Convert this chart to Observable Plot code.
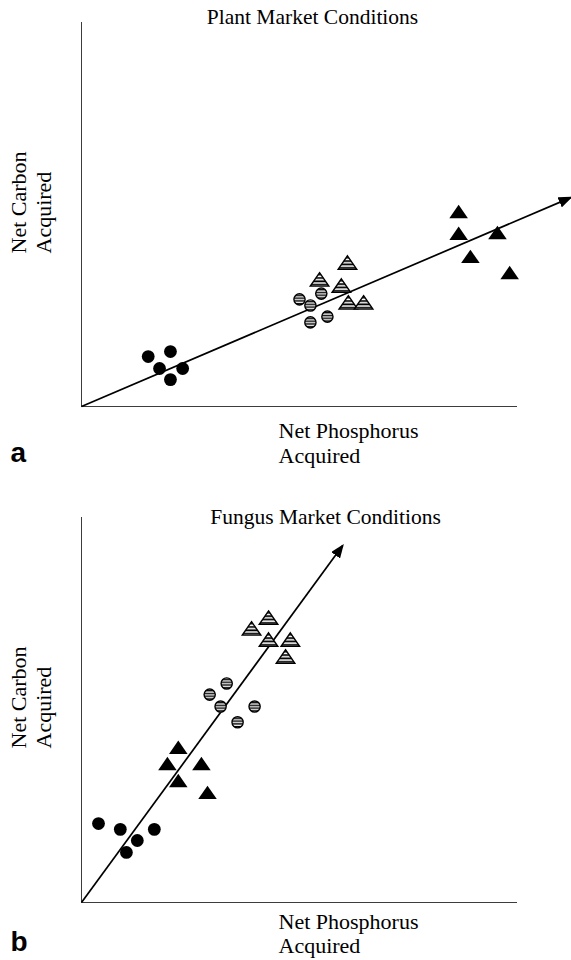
<!DOCTYPE html>
<html><head><meta charset="utf-8">
<script src="https://cdn.jsdelivr.net/npm/d3@7"></script>
<script src="https://cdn.jsdelivr.net/npm/@observablehq/plot@0.6"></script>
<style>body{margin:0;background:#fff} #chart svg{display:block}</style>
</head><body><div id="chart"></div>
<script>
// ---- Data (arbitrary units: axes run 0..100) ----
const seriesNames = ["filled circle", "striped circle", "striped triangle", "filled triangle"];

// Panel a: Plant Market Conditions
const plantX = [15.3, 20.4, 17.9, 23.2, 20.4,   50.0, 52.5, 55.0, 52.5, 56.4,   54.6, 61.0, 59.6, 61.2, 64.7,   86.5, 86.5, 95.4, 89.2, 98.2];
const plantY = [13.0, 14.3, 9.9, 9.9, 7.0,      27.9, 26.3, 29.4, 21.9, 23.4,   33.1, 37.5, 31.5, 27.1, 27.1,   50.8, 45.1, 45.3, 39.1, 34.9];
const plantSeries = [
  "filled circle", "filled circle", "filled circle", "filled circle", "filled circle",
  "striped circle", "striped circle", "striped circle", "striped circle", "striped circle",
  "striped triangle", "striped triangle", "striped triangle", "striped triangle", "striped triangle",
  "filled triangle", "filled triangle", "filled triangle", "filled triangle", "filled triangle"
];
const plantArrowStart = [0, 0];
const plantArrowEnd = [112.2, 54.4];

// Panel b: Fungus Market Conditions
const fungusX = [3.9, 8.9, 16.7, 12.8, 10.3,    22.2, 19.7, 27.5, 22.2, 28.9,   33.3, 29.4, 31.9, 39.7, 35.8,   42.9, 39.0, 42.9, 47.9, 46.8];
const fungusY = [20.5, 19.0, 19.0, 16.1, 13.0,  40.3, 36.1, 36.1, 31.7, 28.6,   56.9, 54.0, 50.9, 50.9, 46.8,   74.0, 71.2, 68.3, 68.3, 63.9];
const fungusSeries = [
  "filled circle", "filled circle", "filled circle", "filled circle", "filled circle",
  "filled triangle", "filled triangle", "filled triangle", "filled triangle", "filled triangle",
  "striped circle", "striped circle", "striped circle", "striped circle", "striped circle",
  "striped triangle", "striped triangle", "striped triangle", "striped triangle", "striped triangle"
];
const fungusArrowStart = [0, 0];
const fungusArrowEnd = [59.9, 92.7];

const titles = ["Plant Market Conditions", "Fungus Market Conditions"];
const xLabel = "Net Phosphorus\nAcquired";
const yLabel = "Net Carbon\nAcquired";
const panelLetters = ["a", "b"];

// ---- Rendering ----
const serif = "'Liberation Serif','Times New Roman',Times,serif";
const sans = "'Liberation Sans',Arial,Helvetica,sans-serif";

const flatTriangle = {
  draw(context, size) {
    const r = Math.sqrt(size / Math.PI);
    const w = r * 1.45, h = r * 1.05;
    context.moveTo(0, -h);
    context.lineTo(w, h);
    context.lineTo(-w, h);
    context.closePath();
  }
};

function panel(cfg) {
  const pts = cfg.x.map((x, i) => ({x, y: cfg.y[i], s: cfg.series[i]}));
  const of = (name) => pts.filter(d => d.s === name);
  const link = [{x1: cfg.start[0], y1: cfg.start[1], x2: cfg.end[0], y2: cfg.end[1]}];
  const stripeId = "stripes-" + cfg.key, headId = "head-" + cfg.key;
  const svg = Plot.plot({
    width: 571, height: 480,
    marginLeft: 81, marginRight: 54, marginTop: cfg.mt, marginBottom: cfg.mb,
    x: {domain: [0, 100], axis: null},
    y: {domain: [0, 100], axis: null},
    style: {fontFamily: serif, background: "white", overflow: "visible", color: "black"},
    marks: [
      Plot.ruleX([0], {y1: 0, y2: 100, stroke: "#3c3c3c", strokeWidth: 1}),
      Plot.ruleY([0], {x1: 0, x2: 100, stroke: "#3c3c3c", strokeWidth: 1}),
      Plot.link(link, {x1: "x1", y1: "y1", x2: "x2", y2: "y2", stroke: "black", strokeWidth: 1.7}),
      Plot.dot(of("filled circle"), {x: "x", y: "y", r: 6.4, fill: "black", stroke: "none"}),
      Plot.dot(of("striped circle"), {x: "x", y: "y", r: 5.6, fill: `url(#${stripeId})`, stroke: "black", strokeWidth: 1.4}),
      Plot.dot(of("striped triangle"), {x: "x", y: "y", r: 6.4, symbol: flatTriangle, fill: `url(#${stripeId})`, stroke: "black", strokeWidth: 1.4}),
      Plot.dot(of("filled triangle"), {x: "x", y: "y", r: 6.4, symbol: flatTriangle, fill: "black", stroke: "none"}),
      Plot.text([cfg.title], {text: d => d, frameAnchor: "top", textAnchor: "middle", lineAnchor: "middle", dx: cfg.titleDx, dy: cfg.titleDy, fontSize: 21.5, fill: "black"}),
      Plot.text([xLabel], {text: d => d, frameAnchor: "bottom", textAnchor: "start", lineAnchor: "top", dx: -21, dy: cfg.xlDy, fontSize: 22, lineHeight: cfg.xlLh, fill: "black"}),
      Plot.text([yLabel], {text: d => d, frameAnchor: "left", rotate: -90, textAnchor: "start", lineAnchor: "top", dx: -73, dy: cfg.ylDy, fontSize: 22, lineHeight: 1.13, fill: "black"}),
      Plot.text([cfg.letter], {text: d => d, frameAnchor: "bottom-left", textAnchor: "start", lineAnchor: "top", dx: -71, dy: cfg.letterDy, fontSize: 28, fontWeight: "bold", fontFamily: sans, fill: "black"})
    ]
  });
  const defs = d3.select(svg).insert("defs", ":first-child");
  const pat = defs.append("pattern").attr("id", stripeId)
    .attr("patternUnits", "objectBoundingBox").attr("patternContentUnits", "objectBoundingBox")
    .attr("x", 0).attr("y", 0).attr("width", 1).attr("height", 0.25);
  pat.append("rect").attr("x", 0).attr("y", 0).attr("width", 1).attr("height", 0.25).attr("fill", "white");
  pat.append("rect").attr("x", 0).attr("y", 0.08).attr("width", 1).attr("height", 0.13).attr("fill", "black");
  const marker = defs.append("marker").attr("id", headId)
    .attr("viewBox", "0 0 14 11").attr("refX", 12).attr("refY", 5.5)
    .attr("markerWidth", 14).attr("markerHeight", 11)
    .attr("markerUnits", "userSpaceOnUse").attr("orient", "auto");
  marker.append("path").attr("d", "M0,0L14,5.5L0,11Z").attr("fill", "black");
  d3.select(svg).selectAll('g[aria-label="link"] path').attr("marker-end", `url(#${headId})`);
  return svg;
}

const chart = document.getElementById("chart");
chart.append(panel({
  key: "a", x: plantX, y: plantY, series: plantSeries, start: plantArrowStart, end: plantArrowEnd,
  mt: 22, mb: 74, title: titles[0], titleDx: 13, titleDy: -5, xlDy: 14, xlLh: 1.13, ylDy: 39, letter: panelLetters[0], letterDy: 36
}));
chart.append(panel({
  key: "b", x: fungusX, y: fungusY, series: fungusSeries, start: fungusArrowStart, end: fungusArrowEnd,
  mt: 37, mb: 58, title: titles[1], titleDx: 26, titleDy: 0, xlDy: 10, xlLh: 1.08, ylDy: 38.5, letter: panelLetters[1], letterDy: 29
}));
</script>
</body></html>
